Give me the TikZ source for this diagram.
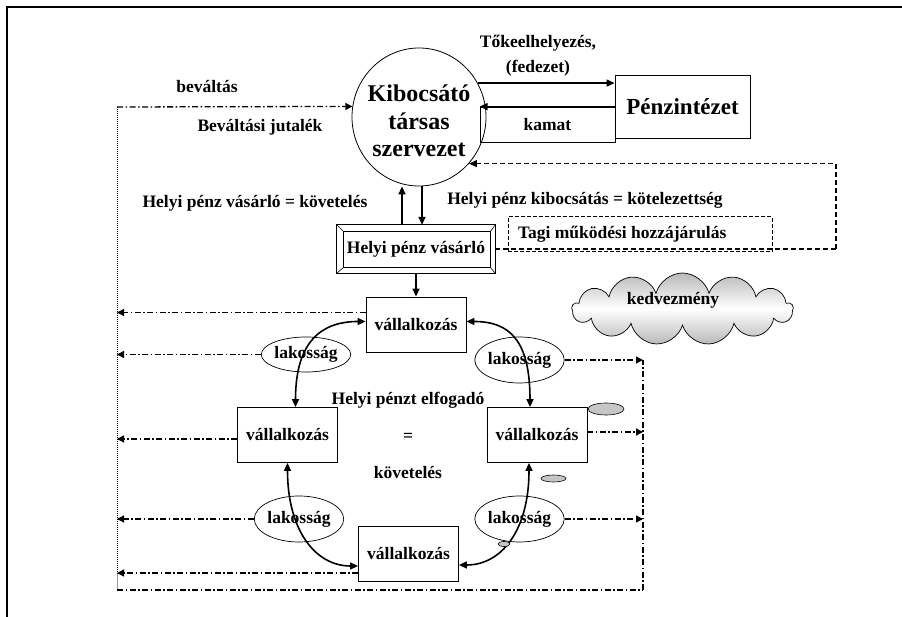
\documentclass[tikz,border=0pt]{standalone}
\usepackage{fontspec}
\setmainfont{Liberation Serif}
\usetikzlibrary{arrows.meta,shapes.symbols,shapes.geometric,calc}
\begin{document}
\begin{tikzpicture}[x=1pt,y=-1pt,
  every node/.style={font=\fontsize{17.5}{21}\selectfont\bfseries, inner sep=0pt},
  tip/.style={-{Triangle[length=8pt,width=7pt]}},
  solidarr/.style={line width=1.5pt,-{Triangle[length=8pt,width=7pt]}},
  dblarr/.style={line width=1.6pt,{Triangle[length=8pt,width=7pt]}-{Triangle[length=8pt,width=7pt]}},
  dd/.style={line width=1.3pt, dash pattern=on 6pt off 2.5pt on 1.5pt off 2.5pt},
  ddarr/.style={dd,-{Triangle[length=7pt,width=7pt]}},
  dsh/.style={line width=1.2pt, dash pattern=on 5pt off 3pt},
  vbox/.style={draw, line width=0.8pt, fill=white, minimum width=100pt, minimum height=55pt},
  lak/.style={ellipse, draw, line width=0.7pt, fill=white, minimum width=79pt, minimum height=46pt},
  gray ell/.style={ellipse, draw, line width=0.6pt, fill=gray!45}
]
\useasboundingbox (0,0) rectangle (902,617);
% frame
\draw[line width=2.5pt] (6,7) -- (902,7);
\draw[line width=2.5pt] (7,6) -- (7,617);

% issuer
\node[ellipse, draw, line width=0.8pt, minimum width=134pt, minimum height=138pt] (kib) at (419,117) {};
\node[align=center, font=\fontsize{24}{27.5}\selectfont\bfseries] (kibt) at (419,121) {Kibocsátó\\társas\\szervezet};

% bank
\node[draw, line width=0.8pt, minimum width=135pt, minimum height=63pt, font=\fontsize{23}{27}\selectfont\bfseries] (pz) at (682.5,106.5) {Pénzintézet};
\node[draw, line width=0.8pt, minimum width=135pt, minimum height=35pt] (kam) at (547.5,124.5) {kamat};
\node[align=center, font=\fontsize{17.5}{25}\selectfont\bfseries] (tok) at (538,56) {Tőkeelhelyezés,\\(fedezet)};
\draw[solidarr] (kib.30) -- (kib.30 -| pz.west);
\draw[solidarr] (pz.west |- kam.north) -- (kam.north west);

% labels
\node (bev) at (207,87) {beváltás};
\node (bj) at (260,127) {Beváltási jutalék};
\node (hvk) at (255,203) {Helyi pénz vásárló = követelés};
\node (hkk) at (585,200) {Helyi pénz kibocsátás = kötelezettség};

% buyer box (bevelled)
\node[minimum width=158pt, minimum height=48pt] (hpv) at (416,249) {Helyi pénz vásárló};
\draw[line width=0.8pt] (hpv.north west) rectangle (hpv.south east);
\coordinate (iNW) at ($(hpv.north west)+(7,7)$);
\coordinate (iSE) at ($(hpv.south east)+(-5,-6)$);
\draw[line width=0.8pt] (iNW) rectangle (iSE);
\draw[line width=0.6pt] (hpv.north west) -- (iNW);
\draw[line width=0.6pt] (hpv.south east) -- (iSE);
\draw[line width=0.6pt] (hpv.north east) -- (iNW -| iSE);
\draw[line width=0.6pt] (hpv.south west) -- (iNW |- iSE);

\draw[solidarr] ([xshift=-14pt]hpv.north) -- ([xshift=-14pt]hpv.north |- kib.south);
\draw[solidarr] ([xshift=6pt]hpv.north |- kib.south) -- ([xshift=6pt]hpv.north);

% membership contribution
\node[draw, line width=1pt, dash pattern=on 4pt off 2pt, minimum width=264pt, minimum height=35pt] (tagi) at (640,234.5) {\makebox[244pt][l]{Tagi működési hozzájárulás}};
\coordinate (dr) at (836,249);
\draw[dsh] (hpv.east) -- (dr);
\draw[dsh, tip] (dr) |- (kib.-43);

% cloud
\node[cloud, cloud puffs=13, aspect=3.1, draw, line width=0.7pt, minimum width=221pt, minimum height=72pt, top color=gray!55, bottom color=gray!55, middle color=white] (cl) at (682.5,309) {};
\node (kedv) at (673,300) {kedvezmény};

% enterprises
\node[vbox] (tv) at (416,324.5) {vállalkozás};
\node[vbox] (lv) at (287.5,435) {vállalkozás};
\node[vbox] (rv) at (537,435) {vállalkozás};
\node[vbox] (bv) at (408.5,554) {vállalkozás};
\draw[solidarr] (hpv.south) -- (tv.north);

% population ellipses
\node[lak, minimum height=35pt] (lk1) at (306,354.5) {lakosság};
\node[lak] (lk2) at (519.5,360) {lakosság};
\node[lak] (lk3) at (299,519) {lakosság};
\node[lak] (lk4) at (519.5,519) {lakosság};

% centre text
\node (he) at (408,400) {Helyi pénzt elfogadó};
\node (eq) at (408,437) {=};
\node (kov) at (408,473) {követelés};

% small grey ellipses
\node[gray ell, minimum width=36pt, minimum height=12pt] (g1) at (606,409) {};
\node[gray ell, minimum width=25pt, minimum height=7pt] (g2) at (553.5,478.5) {};

% curved double arrows
\draw[dblarr] ([xshift=8pt]lv.north) .. controls +(0,-67) and +(-43,0) .. ([yshift=3pt]tv.west);
\draw[dblarr] ([yshift=3pt]tv.east) .. controls +(43,0) and +(0,-67) .. ([xshift=-7pt]rv.north);
\draw[dblarr] (lv.south) .. controls +(0,67) and +(-43,0) .. ([yshift=-12pt]bv.west);
\draw[dblarr] ([xshift=-8pt]rv.south) .. controls +(0,67) and +(43,0) .. ([yshift=-11pt]bv.east);
\node[gray ell, minimum width=12pt, minimum height=5pt] (g3) at (504,544) {};

% redemption loop
\coordinate (tl) at (117,107);
\coordinate (ob) at (117,574);
\coordinate (bl) at (117,590);
\coordinate (br) at (643,590);
\coordinate (tr) at (643,360);
\draw[ddarr] (tl) -- (kib.171);
\draw[line width=1pt, densely dotted] (tl) -- (ob);
\draw[line width=0.8pt, orange] (ob) -- (bl);
\draw[dd] (bl) -- (br);
\draw[dd] (br) -- (tr);

\draw[ddarr] ([yshift=12pt]tv.west) -- ([yshift=12pt]tv.west -| tl);
\draw[ddarr] (lk1.west) -- (lk1.west -| tl);
\draw[ddarr] ([yshift=-4pt]lv.west) -- ([yshift=-4pt]lv.west -| tl);
\draw[ddarr] (lk3.west) -- (lk3.west -| tl);
\draw[ddarr] ([yshift=-19pt]bv.west) -- ([yshift=-19pt]bv.west -| tl);

\draw[ddarr] (lk2.east) -- (lk2.east -| tr);
\draw[ddarr] ([yshift=3pt]rv.east) -- ([yshift=3pt]rv.east -| tr);
\draw[ddarr] (lk4.east) -- (lk4.east -| tr);
\end{tikzpicture}
\end{document}
